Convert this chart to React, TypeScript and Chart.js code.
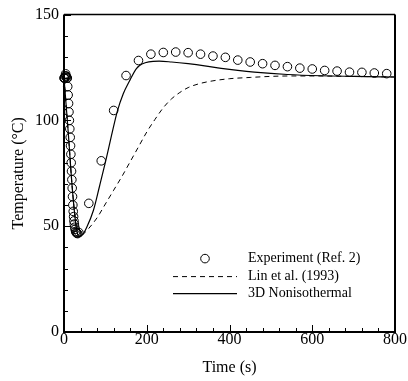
import React, { useEffect, useRef } from "react";
import { Chart, registerables } from "chart.js";

Chart.register(...registerables);

// Experiment (Ref. 2)
const expTime = [
  0, 1, 2, 3, 4, 5, 6, 7, 8, 9, 10, 11, 12, 13, 14, 15, 15.8, 16.6, 17.4, 18.2, 19,
  19.8, 20.6, 21.4, 22.3, 23.2, 24.1, 25, 26, 27, 28.2, 29.5, 31, 33, 36,
  60, 90, 120, 150, 180, 210, 240, 270, 300, 330, 360, 390, 420, 450, 480, 510,
  540, 570, 600, 630, 660, 690, 720, 750, 780,
];
const expTemp = [
  120, 120, 120, 121, 122, 121, 120.5, 120, 120, 116, 112, 108, 104, 100, 96, 92, 88,
  84, 80, 76, 72, 68, 64, 60, 57, 54.5, 52.5, 51, 49.5, 48.5, 47.5, 47, 46.7, 46.5, 47,
  60.8, 80.9, 104.7, 121.2, 128.3, 131.3, 132.1, 132.3, 132, 131.3, 130.4, 129.8,
  128.5, 127.6, 126.8, 126, 125.4, 124.7, 124.3, 123.6, 123.3, 122.8, 122.7, 122.4, 122.1,
];

// Lin et al. (1993)
const linTime = [
  0, 10, 20, 30, 36, 47, 60, 80, 100, 120, 140, 160, 180, 200, 220, 240, 260, 280,
  300, 330, 360, 400, 450, 500, 550, 600, 700, 800,
];
const linTemp = [
  120, 95, 68, 49, 45.5, 46.4, 49, 54, 60.5, 67, 73.5, 80.5, 87.5, 94.5, 100.5, 106,
  110.2, 113.2, 115.5, 117.5, 118.7, 119.7, 120.3, 120.8, 121, 121, 120.8, 120.5,
];

// 3D Nonisothermal
const ndTime = [
  0, 10, 20, 30, 36, 45, 55, 71, 86, 101, 115, 129, 143, 158, 175, 190, 205, 230,
  260, 300, 340, 380, 420, 460, 540, 620, 700, 800,
];
const ndTemp = [
  120, 95, 68, 49, 45.2, 46, 49.5, 57.4, 69, 81, 93, 104.4, 112.5, 118.5, 124.5,
  126.8, 127.7, 128, 127.6, 126.8, 125.8, 124.6, 123.6, 122.8, 121.7, 121.1, 120.8, 120.5,
];

const xTicks = [0, 200, 400, 600, 800];
const yTicks = [0, 50, 100, 150];
const xMinorStep = 40;
const yMinorStep = 10;

const labels = ["Experiment (Ref. 2)", "Lin et al. (1993)", "3D Nonisothermal"];

const FONT = "'Liberation Serif', 'Times New Roman', serif";

const framePlugin = {
  id: "frameTicks",
  afterDatasetsDraw(chart: any) {
    const { ctx, chartArea: a, scales } = chart;
    const xs = scales.x;
    const ys = scales.y;
    ctx.save();
    ctx.strokeStyle = "#000";
    // minor/major ticks inward
    ctx.lineWidth = 1;
    ctx.beginPath();
    for (let v = xs.min; v <= xs.max + 1e-6; v += xMinorStep) {
      const major = xTicks.includes(v);
      const len = major ? 7 : 4;
      const px = Math.round(xs.getPixelForValue(v)) + 0.5;
      ctx.moveTo(px, a.bottom);
      ctx.lineTo(px, a.bottom - len);
    }
    for (let v = ys.min; v <= ys.max + 1e-6; v += yMinorStep) {
      const major = yTicks.includes(v);
      const len = major ? 7 : 4;
      const py = Math.round(ys.getPixelForValue(v)) + 0.5;
      ctx.moveTo(a.left, py);
      ctx.lineTo(a.left + len, py);
    }
    ctx.stroke();
    // frame
    ctx.lineWidth = 2;
    ctx.beginPath();
    ctx.moveTo(a.left, a.top);
    ctx.lineTo(a.left, a.bottom);
    ctx.lineTo(a.right, a.bottom);
    ctx.lineTo(a.right, a.top);
    ctx.stroke();
    ctx.lineWidth = 1.5;
    ctx.beginPath();
    ctx.moveTo(a.left, a.top);
    ctx.lineTo(a.right, a.top);
    ctx.stroke();

    // legend
    const ds = chart.data.datasets;
    const lx0 = a.left + 109;
    const lx1 = a.left + 173;
    const tx = a.left + 184;
    const rows = [a.top + 244, a.top + 262, a.top + 279];
    ctx.font = "14px " + FONT;
    ctx.fillStyle = "#000";
    ctx.textBaseline = "middle";
    ctx.textAlign = "left";
    ds.forEach((d: any, i: number) => {
      const y = rows[i];
      ctx.lineWidth = 1;
      if (i === 0) {
        ctx.beginPath();
        ctx.arc((lx0 + lx1) / 2, y, 4.3, 0, Math.PI * 2);
        ctx.stroke();
      } else {
        ctx.setLineDash(d.borderDash || []);
        ctx.lineWidth = d.borderWidth;
        ctx.beginPath();
        ctx.moveTo(lx0, y);
        ctx.lineTo(lx1, y);
        ctx.stroke();
        ctx.setLineDash([]);
      }
      ctx.fillText(d.label, tx, y);
    });
    ctx.restore();
  },
};

export default function App() {
  const ref = useRef<HTMLCanvasElement | null>(null);
  useEffect(() => {
    document.body.style.margin = "0";
    const canvas = ref.current!;
    const toXY = (xs: number[], ys: number[]) => xs.map((x, i) => ({ x, y: ys[i] }));
    const chart = new Chart(canvas, {
      type: "scatter",
      data: {
        datasets: [
          {
            label: labels[0],
            data: toXY(expTime, expTemp),
            showLine: false,
            pointStyle: "circle",
            pointRadius: 4.3,
            pointBorderWidth: 1,
            borderColor: "#000",
            backgroundColor: "rgba(0,0,0,0)",
            clip: false,
          } as any,
          {
            label: labels[1],
            data: toXY(linTime, linTemp),
            showLine: true,
            pointRadius: 0,
            borderColor: "#000",
            borderWidth: 1,
            borderDash: [5, 4],
            cubicInterpolationMode: "monotone",
            fill: false,
          } as any,
          {
            label: labels[2],
            data: toXY(ndTime, ndTemp),
            showLine: true,
            pointRadius: 0,
            borderColor: "#000",
            borderWidth: 1.2,
            cubicInterpolationMode: "monotone",
            fill: false,
          } as any,
        ],
      },
      options: {
        animation: false,
        responsive: false,
        maintainAspectRatio: false,
        layout: { padding: { left: 0, top: 13, right: 13, bottom: 0 } },
        plugins: { legend: { display: false }, tooltip: { enabled: false } },
        scales: {
          x: {
            type: "linear",
            min: 0,
            max: 800,
            afterBuildTicks: (s: any) => {
              s.ticks = xTicks.map((v) => ({ value: v }));
            },
            afterFit: (s: any) => {
              s.height = 49;
            },
            grid: { display: false, drawTicks: false },
            border: { display: false },
            ticks: {
              color: "#000",
              padding: 0,
              font: { family: FONT, size: 16, lineHeight: 1 },
              maxRotation: 0,
            },
            title: {
              display: true,
              text: "Time (s)",
              color: "#000",
              font: { family: FONT, size: 16 },
              padding: { top: 0, bottom: 4 },
            },
          },
          y: {
            type: "linear",
            min: 0,
            max: 150,
            afterBuildTicks: (s: any) => {
              s.ticks = yTicks.map((v) => ({ value: v }));
            },
            afterFit: (s: any) => {
              s.width = 64;
            },
            grid: { display: false, drawTicks: false },
            border: { display: false },
            ticks: {
              color: "#000",
              padding: 5,
              font: { family: FONT, size: 16 },
            },
            title: {
              display: true,
              text: "Temperature (°C)",
              color: "#000",
              font: { family: FONT, size: 16 },
              padding: { top: 9, bottom: 0 },
            },
          },
        },
      },
      plugins: [framePlugin],
    });
    return () => chart.destroy();
  }, []);
  return (
    <div style={{ width: 408, height: 381 }}>
      <canvas ref={ref} width={408} height={381} style={{ display: "block" }} />
    </div>
  );
}
